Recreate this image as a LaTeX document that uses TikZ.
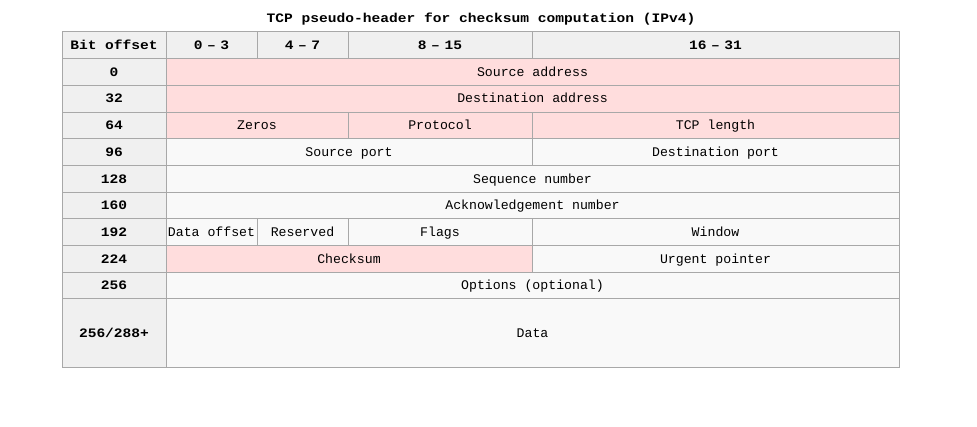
\documentclass[tikz,border=0pt]{standalone}
\usepackage{fontspec}
\setmonofont{Liberation Mono}
\newfontfamily\hdrfont[FakeStretch=1.13]{Liberation Mono}
\usetikzlibrary{positioning}

\definecolor{hdrgray}{HTML}{F0F0F0}
\definecolor{cellgray}{HTML}{F9F9F9}
\definecolor{pinkfill}{HTML}{FFDDDD}
\definecolor{rulegray}{HTML}{A8A8A8}

\tikzset{
    cell/.style={draw=rulegray, line width=1pt, fill=cellgray, inner sep=0pt,
        text height=8.5pt, text depth=0pt,
        minimum height=26.7pt, font=\fontsize{13.2}{15}\selectfont\ttfamily},
    hdr/.style={cell, fill=hdrgray, font=\fontsize{12.9}{15}\selectfont\hdrfont\bfseries},
    pseudo/.style={cell, fill=pinkfill},
}

\begin{document}
\begin{tikzpicture}[x=1pt, y=-1pt]
        \useasboundingbox (0,0) rectangle (977,427);
        \node[font=\fontsize{12.9}{15}\selectfont\hdrfont\bfseries] (title) at (481,19) {TCP pseudo-header for checksum computation (IPv4)};
        % column heads
        \node[hdr, minimum width=104pt] (hbit) at (114,45.35) {Bit offset};
        \node[hdr, minimum width=91pt] (h0) at (211.5,45.35) {0\hspace{.35em}–\hspace{.35em}3};
        \node[hdr, minimum width=91pt] (h4) at (302.5,45.35) {4\hspace{.35em}–\hspace{.35em}7};
        \node[hdr, minimum width=184pt] (h8) at (440,45.35) {8\hspace{.35em}–\hspace{.35em}15};
        \node[hdr, minimum width=367pt] (h16) at (715.5,45.35) {16\hspace{.35em}–\hspace{.35em}31};
        % pseudo-header rows
        \node[hdr, minimum width=104pt] (o0) at (114,72.05) {0};
        \node[pseudo, minimum width=733pt] (srcaddr) at (532.5,72.05) {Source address};
        \node[hdr, minimum width=104pt] (o32) at (114,98.75) {32};
        \node[pseudo, minimum width=733pt] (dstaddr) at (532.5,98.75) {Destination address};
        \node[hdr, minimum width=104pt] (o64) at (114,125.45) {64};
        \node[pseudo, minimum width=182pt] (zeros) at (257,125.45) {Zeros};
        \node[pseudo, minimum width=184pt] (proto) at (440,125.45) {Protocol};
        \node[pseudo, minimum width=367pt] (tcplen) at (715.5,125.45) {TCP length};
        % tcp header rows
        \node[hdr, minimum width=104pt] (o96) at (114,152.15) {96};
        \node[cell, minimum width=366pt] (srcport) at (349,152.15) {Source port};
        \node[cell, minimum width=367pt] (dstport) at (715.5,152.15) {Destination port};
        \node[hdr, minimum width=104pt] (o128) at (114,178.85) {128};
        \node[cell, minimum width=733pt] (seq) at (532.5,178.85) {Sequence number};
        \node[hdr, minimum width=104pt] (o160) at (114,205.55) {160};
        \node[cell, minimum width=733pt] (ack) at (532.5,205.55) {Acknowledgement number};
        \node[hdr, minimum width=104pt] (o192) at (114,232.25) {192};
        \node[cell, minimum width=91pt] (doff) at (211.5,232.25) {Data offset};
        \node[cell, minimum width=91pt] (resv) at (302.5,232.25) {Reserved};
        \node[cell, minimum width=184pt] (flags) at (440,232.25) {Flags};
        \node[cell, minimum width=367pt] (window) at (715.5,232.25) {Window};
        \node[hdr, minimum width=104pt] (o224) at (114,258.95) {224};
        \node[pseudo, minimum width=366pt] (csum) at (349,258.95) {Checksum};
        \node[cell, minimum width=367pt] (urgent) at (715.5,258.95) {Urgent pointer};
        \node[hdr, minimum width=104pt] (o256) at (114,285.65) {256};
        \node[cell, minimum width=733pt] (opts) at (532.5,285.65) {Options (optional)};
        \node[hdr, minimum width=104pt, minimum height=69pt] (odata) at (114,333.5) {256/288+};
        \node[cell, minimum width=733pt, minimum height=69pt] (data) at (532.5,333.5) {Data};
\end{tikzpicture}
\end{document}
